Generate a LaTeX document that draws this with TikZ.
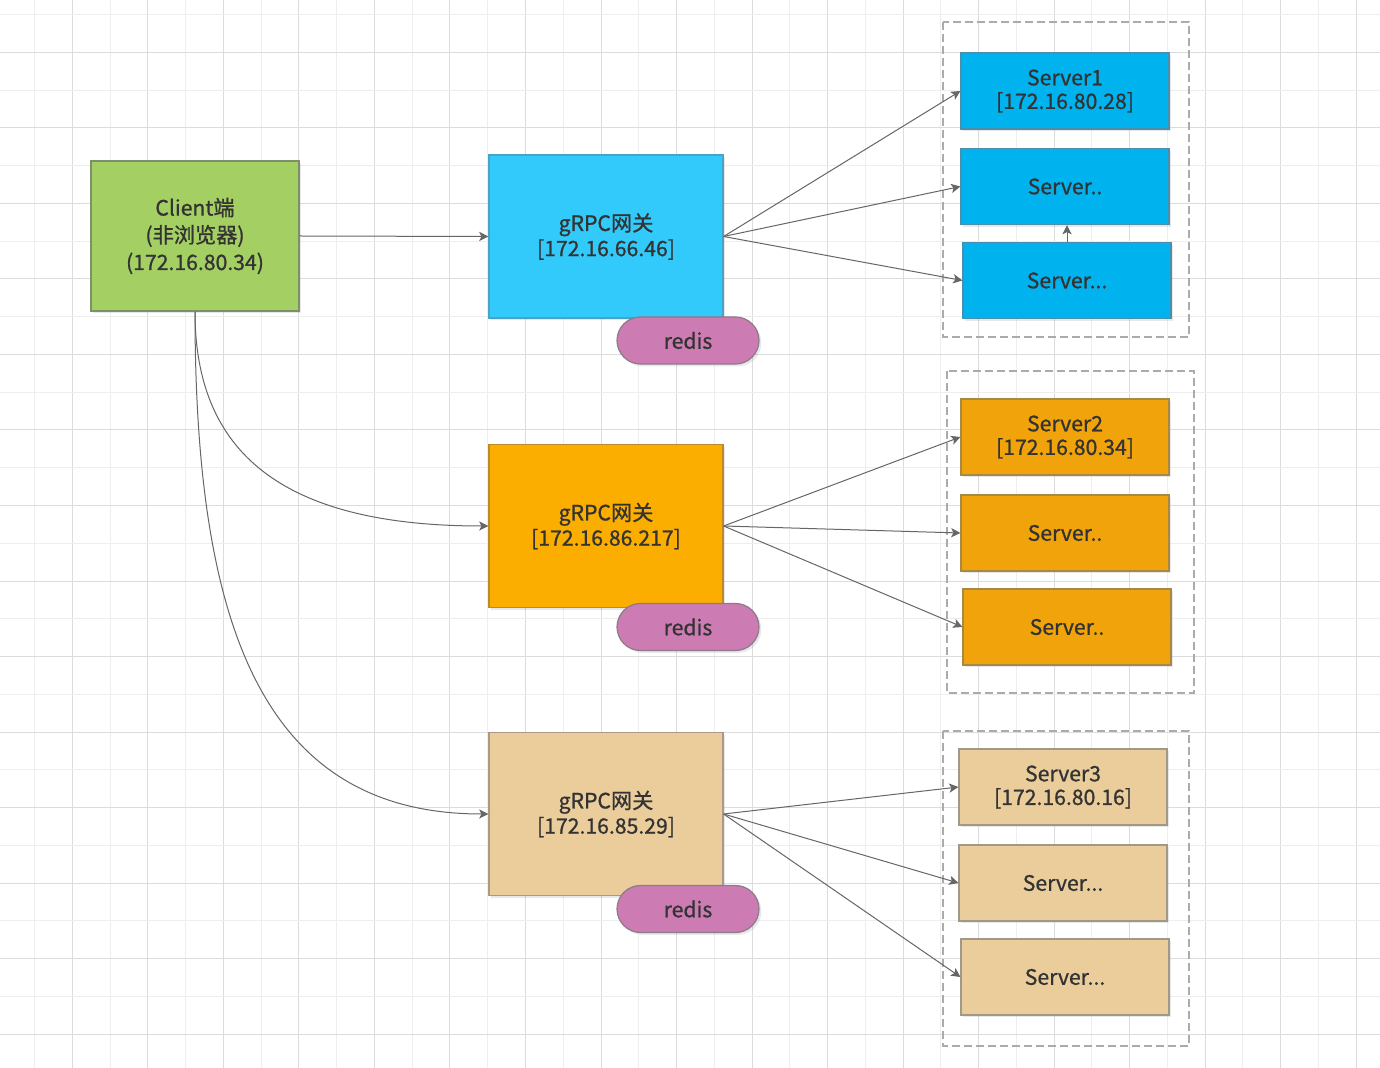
\documentclass[tikz,border=0pt]{standalone}
\usepackage{fontspec}
\setmainfont{Noto Sans CJK SC}[FakeBold=0.9]
\usetikzlibrary{arrows.meta}
\usetikzlibrary{shadows}
\definecolor{txt}{HTML}{333333}
\definecolor{gridmi}{HTML}{EEEEEE}
\definecolor{gridma}{HTML}{DCDCDC}
\definecolor{edgec}{HTML}{666666}
\definecolor{cliF}{HTML}{A4CF63}\definecolor{cliD}{HTML}{7F8F6C}
\definecolor{gwbF}{HTML}{31CAFA}\definecolor{gwbD}{HTML}{4AA3C4}
\definecolor{gwoF}{HTML}{FBAD00}\definecolor{gwoD}{HTML}{B98A2E}
\definecolor{gwtF}{HTML}{EACD9B}\definecolor{gwtD}{HTML}{A8998A}
\definecolor{srvbF}{HTML}{00B2EE}\definecolor{srvbD}{HTML}{4B8FAF}
\definecolor{srvoF}{HTML}{F0A30A}\definecolor{srvoD}{HTML}{A88845}
\definecolor{srvtF}{HTML}{EACD9B}\definecolor{srvtD}{HTML}{A09888}
\definecolor{rdF}{HTML}{CD7CB3}\definecolor{rdD}{HTML}{8C7A88}
\definecolor{grpD}{HTML}{ABABAB}
\tikzset{
	box/.style = {rectangle, align=center, inner sep=0pt, text=txt,
		line width=0.6pt, font=\fontsize{10.6}{11.8}\selectfont,
		drop shadow={shadow xshift=1.2pt, shadow yshift=-1.2pt, opacity=0.18}},
	cli_g/.style = {box, fill=cliF, draw=cliD,
		minimum width=104pt, minimum height=75pt,
		font=\fontsize{10.6}{13.6}\selectfont},% client, vert
	gw/.style = {box, minimum width=117pt, minimum height=81.5pt,
		font=\fontsize{10.6}{12.6}\selectfont},% passerelle
	gw_b/.style = {gw, fill=gwbF, draw=gwbD},
	gw_o/.style = {gw, fill=gwoF, draw=gwoD},
	gw_t/.style = {gw, fill=gwtF, draw=gwtD},
	srv/.style = {box, minimum width=104pt, minimum height=38pt},% serveur
	srv_b/.style = {srv, fill=srvbF, draw=srvbD},
	srv_o/.style = {srv, fill=srvoF, draw=srvoD},
	srv_t/.style = {srv, fill=srvtF, draw=srvtD},
	redis/.style = {box, rounded corners=11.75pt, fill=rdF,
		draw=rdD, minimum width=71pt, minimum height=23.5pt},
	grp/.style = {draw=grpD, line width=0.8pt,
		dash pattern=on 4pt off 2pt},% groupe
	edge/.style = {->, draw=edgec, line width=0.5pt}
}

\begin{document}
\begin{tikzpicture}[x=0.5pt, y=-0.5pt,
		>={Stealth[length=4.6pt, width=4.6pt, inset=1.1pt]}]
	\useasboundingbox (0,0) rectangle (1380,1068);
	\fill[white] (0,0) rectangle (1380,1068);
	% grille
	\foreach \i in {0,...,17} {
		\draw[gridmi, line width=0.5pt] ({34.5+75.53*\i},0) -- ++(0,1068);
		\draw[gridma, line width=0.5pt] ({72.3+75.53*\i},0) -- ++(0,1068);
	}
	\foreach \i in {0,...,13} {
		\draw[gridmi, line width=0.5pt] (0,{14.5+75.53*\i}) -- ++(1380,0);
		\draw[gridma, line width=0.5pt] (0,{52.3+75.53*\i}) -- ++(1380,0);
	}
	% groupes
	\draw[grp] (943,22) rectangle (1189,337);
	\draw[grp] (947,371) rectangle (1194,693);
	\draw[grp] (943,731) rectangle (1189,1046);
	% noeuds
	\node[cli_g] (client) at (195,236) {Client端\\(非浏览器)\\(172.16.80.34)};
	\node[gw_b] (gw1) at (606,236.5) {gRPC网关\\{}[172.16.66.46]};
	\node[gw_o] (gw2) at (606,526) {gRPC网关\\{}[172.16.86.217]};
	\node[gw_t] (gw3) at (606,814) {gRPC网关\\{}[172.16.85.29]};
	\node[redis] (rd1) at (688,340.5) {redis};
	\node[redis] (rd2) at (688,627) {redis};
	\node[redis] (rd3) at (688,909) {redis};
	\node[srv_b] (s11) at (1065,91) {Server1\\{}[172.16.80.28]};
	\node[srv_b] (s12) at (1065,186.5) {Server..};
	\node[srv_b] (s13) at (1067,280.5) {Server...};
	\node[srv_o] (s21) at (1065,437) {Server2\\{}[172.16.80.34]};
	\node[srv_o] (s22) at (1065,533) {Server..};
	\node[srv_o] (s23) at (1067,627) {Server..};
	\node[srv_t] (s31) at (1063,787) {Server3\\{}[172.16.80.16]};
	\node[srv_t] (s32) at (1063,883) {Server...};
	\node[srv_t] (s33) at (1065,977) {Server...};
	% liens
	\draw[edge] (client.east) -- (gw1.west);
	\draw[edge] (client.south) .. controls +(0,139) and +(-209,0) .. (gw2.west);
	\draw[edge] (client.south) .. controls +(0,309) and +(-229,0) .. (gw3.west);
	\foreach \s in {s11,s12,s13}
		\draw[edge] (gw1.east) -- (\s.west);
	\foreach \s in {s21,s22,s23}
		\draw[edge] (gw2.east) -- (\s.west);
	\foreach \s in {s31,s32,s33}
		\draw[edge] (gw3.east) -- (\s.west);
	\draw[edge] (s13.north) -- (s13.north |- s12.south);
\end{tikzpicture}
\end{document}
